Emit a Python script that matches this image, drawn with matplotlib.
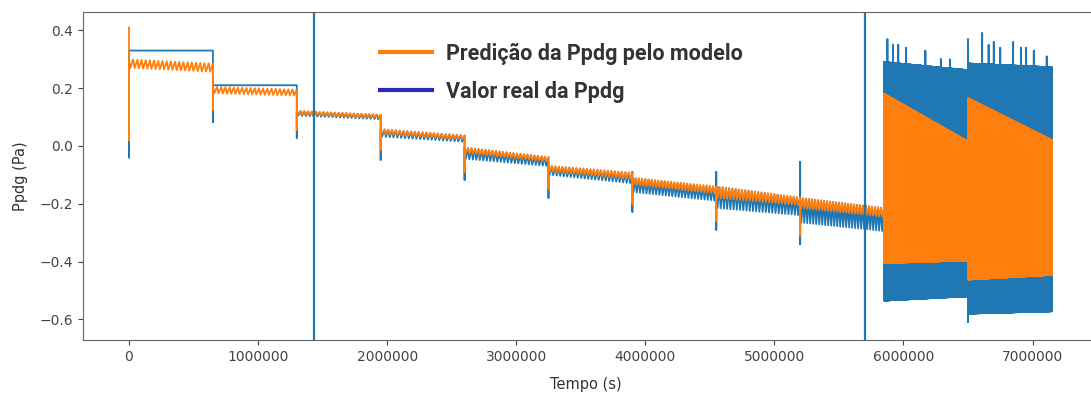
import numpy as np
import matplotlib
matplotlib.use("Agg")
import matplotlib.pyplot as plt
from matplotlib.lines import Line2D

# ---- test schedule: one pressure step every 650 000 s ----
seg_start = [0, 650000, 1300000, 1950000, 2600000, 3250000,
             3900000, 4550000, 5200000, 5850000, 6500000]
seg_end = [650000, 1300000, 1950000, 2600000, 3250000, 3900000,
           4550000, 5200000, 5850000, 6500000, 7150000]

# envelopes of the real Ppdg in each step (start, end)
real_top = [(0.330, 0.330), (0.210, 0.210), (0.120, 0.108), (0.058, 0.036),
            (-0.005, -0.040), (-0.070, -0.095), (-0.110, -0.145),
            (-0.140, -0.180), (-0.180, -0.215), (0.290, 0.262), (0.285, 0.272)]
real_bottom = [(0.330, 0.330), (0.210, 0.210), (0.105, 0.092), (0.032, 0.014),
               (-0.045, -0.070), (-0.100, -0.130), (-0.160, -0.190),
               (-0.215, -0.240), (-0.265, -0.295), (-0.535, -0.520),
               (-0.580, -0.572)]

# envelopes of the model prediction in each step (start, end)
pred_top = [(0.300, 0.285), (0.205, 0.195), (0.122, 0.108), (0.058, 0.036),
            (-0.005, -0.038), (-0.068, -0.092), (-0.110, -0.140),
            (-0.140, -0.178), (-0.180, -0.215), (0.180, 0.015), (0.165, 0.020)]
pred_bottom = [(0.270, 0.256), (0.182, 0.174), (0.110, 0.097), (0.042, 0.022),
               (-0.025, -0.055), (-0.088, -0.115), (-0.135, -0.165),
               (-0.180, -0.205), (-0.215, -0.245), (-0.405, -0.396),
               (-0.462, -0.446)]

# transient at the beginning of each step
real_spike_low = [-0.040, 0.083, 0.028, -0.048, -0.118, -0.180, -0.228,
                  -0.290, -0.340, -0.535, -0.610]
real_spike_high = [0.330, 0.210, 0.120, 0.058, -0.005, -0.070, -0.090,
                   -0.090, -0.055, 0.290, 0.370]
pred_spike_low = [0.020, 0.125, 0.055, -0.015, -0.090, -0.150, -0.200,
                  -0.260, -0.310, -0.405, -0.462]
pred_spike_high = [0.410, 0.205, 0.122, 0.058, -0.005, -0.068, -0.110,
                   -0.140, -0.180, 0.180, 0.165]

# ripple cycles per step (slow cycling, then fast cycling)
cycles = [20, 20, 22, 22, 24, 24, 26, 26, 28, 500, 500]

# isolated peaks of the real signal during fast cycling
peak_t = [5876000, 5920000, 5960000, 6020000, 6170000, 6290000, 6360000,
          6610000, 6660000, 6700000, 6750000, 6850000, 6910000, 6950000,
          7010000, 7110000]
peak_v = [0.370, 0.350, 0.350, 0.340, 0.330, 0.300, 0.300,
          0.390, 0.350, 0.360, 0.340, 0.360, 0.340, 0.340, 0.330, 0.310]

# model change-over instants
vlines = [1434000, 5705000]

x_ticks = [0, 1000000, 2000000, 3000000, 4000000, 5000000, 6000000, 7000000]
y_ticks = [0.4, 0.2, 0.0, -0.2, -0.4, -0.6]


def build_series(top, bottom, s_low, s_high):
    ts, vs = [], []
    for i, (t0, t1) in enumerate(zip(seg_start, seg_end)):
        # start-of-step transient
        ts += [t0, t0, t0]
        vs += [s_high[i], s_low[i], top[i][0]]
        n = cycles[i]
        edges = np.linspace(t0, t1, n + 1)
        for k in range(n):
            a, b = edges[k], edges[k + 1]
            f = k / n
            hi = top[i][0] + (top[i][1] - top[i][0]) * f
            lo = bottom[i][0] + (bottom[i][1] - bottom[i][0]) * f
            ts += [a, a + 0.35 * (b - a)]
            vs += [hi, lo]
        ts.append(t1)
        vs.append(top[i][1])
    return np.array(ts), np.array(vs)


t_real, v_real = build_series(real_top, real_bottom, real_spike_low, real_spike_high)
t_pred, v_pred = build_series(pred_top, pred_bottom, pred_spike_low, pred_spike_high)

# insert isolated peaks of the real signal
for pt, pv in zip(peak_t, peak_v):
    j = np.searchsorted(t_real, pt)
    t_real = np.insert(t_real, j, [pt, pt, pt])
    v_real = np.insert(v_real, j, [v_real[j - 1], pv, v_real[j - 1]])

fig = plt.figure(figsize=(10.91, 4.08), dpi=100)
# the plot area runs past the right edge of the canvas
ax = fig.add_axes([0.076, 0.167, 0.95, 0.804])

blue = "#1f77b4"
orange = "#ff7f0e"
ax.plot(t_real, v_real, color=blue, lw=1.3)
ax.plot(t_pred, v_pred, color=orange, lw=1.3)
for xv in vlines:
    ax.axvline(xv, color=blue, lw=1.6)

ax.set_xlim(-357000, 7673000)
ax.set_ylim(-0.671, 0.464)
ax.set_xticks(x_ticks)
ax.set_xticklabels([str(v) for v in x_ticks])
ax.set_yticks(y_ticks)
ax.set_yticklabels([f"{v:.1f}".replace("-", "\u2212") for v in y_ticks])
ax.tick_params(labelsize=10, colors="#444444", length=3.5)
for sp in ax.spines.values():
    sp.set_color("#666666")

ax.set_xlabel("Tempo (s)", fontsize=10.5, color="#333333", labelpad=10, x=0.485)
ax.set_ylabel("Ppdg (Pa)", fontsize=10.5, color="#333333", labelpad=8)

handles = [Line2D([], [], color=orange, lw=3),
           Line2D([], [], color="#2a2ab4", lw=3)]
labels = ["Predição da Ppdg pelo modelo", "Valor real da Ppdg"]
ax.legend(handles, labels, loc="upper left", bbox_to_anchor=(0.268, 0.965),
          frameon=False, prop={"family": "Roboto", "weight": "bold", "size": 15.5},
          handlelength=2.4, handletextpad=0.65, labelspacing=0.75,
          labelcolor="#333333")

fig.savefig("out.png", dpi=100)
